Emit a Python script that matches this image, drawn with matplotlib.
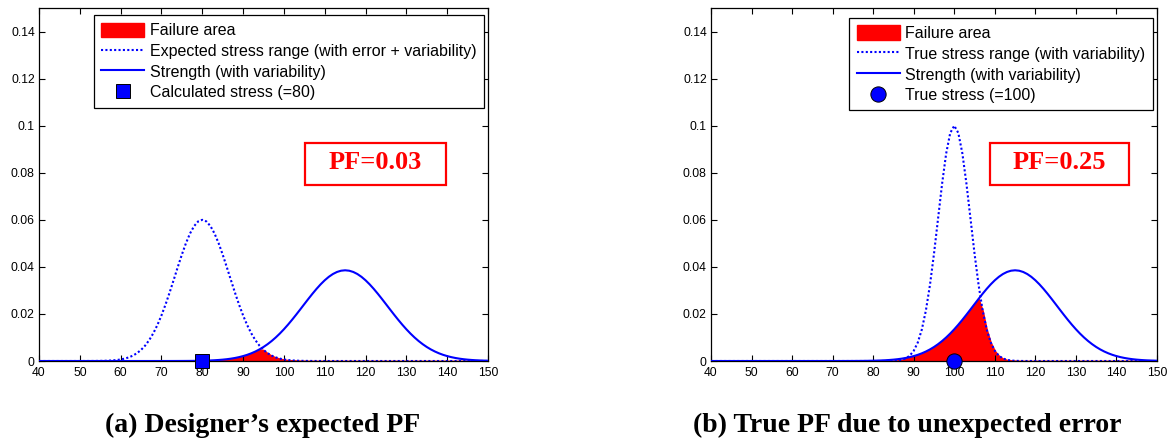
import numpy as np
import matplotlib
matplotlib.use("Agg")
import matplotlib.pyplot as plt
from matplotlib.patches import Rectangle

# ---- data ----
x_min, x_max = 40, 150
x_step = 1
# normal distributions: (mean, std) read from peak position/height
stress_a = (80.0, 6.65)      # expected stress (error + variability), peak ~0.060
strength = (115.0, 10.35)    # strength (with variability), peak ~0.0385
stress_b = (100.0, 3.99)     # true stress (variability), peak ~0.100
calc_stress = 80
true_stress = 100
pf_a = "PF=0.03"
pf_b = "PF=0.25"
legend_a = ["Failure area", "Expected stress range (with error + variability)",
            "Strength (with variability)", "Calculated stress (=80)"]
legend_b = ["Failure area", "True stress range (with variability)",
            "Strength (with variability)", "True stress (=100)"]
caption_a = "(a) Designer\u2019s expected PF"
caption_b = "(b) True PF due to unexpected error"
xticks = list(range(40, 151, 10))
yticks = [0, 0.02, 0.04, 0.06, 0.08, 0.1, 0.12, 0.14]
ytick_labels = ["0", "0.02", "0.04", "0.06", "0.08", "0.1", "0.12", "0.14"]


def pdf(x, m, s):
    return np.exp(-0.5 * ((x - m) / s) ** 2) / (s * np.sqrt(2 * np.pi))


x = np.arange(x_min, x_max + x_step, x_step)

W, H = 1174, 445
fig = plt.figure(figsize=(W / 100, H / 100), dpi=100)
fig.patch.set_facecolor("white")

SANS = "Liberation Sans"
SERIF = "Liberation Serif"


def make_ax(left, right, top, bottom):
    return fig.add_axes([left / W, 1 - bottom / H, (right - left) / W, (bottom - top) / H])


def draw(ax, stress, marker_x, marker, msize, labels, pf_text, pf_box, legend_anchor):
    ys = pdf(x, *stress)
    yr = pdf(x, *strength)
    yf = np.minimum(ys, yr)
    h_fill = ax.fill_between(x, 0, yf, facecolor="red", edgecolor="red", linewidth=1.0, zorder=1)
    h_s, = ax.plot(x, ys, color="blue", linestyle=(0, (1, 1.1)), linewidth=1.5, zorder=2)
    h_r, = ax.plot(x, yr, color="blue", linestyle="-", linewidth=1.5, zorder=3)
    h_m, = ax.plot([marker_x], [0], linestyle="none", marker=marker, markersize=msize,
                   markerfacecolor="blue", markeredgecolor="black", markeredgewidth=0.7,
                   zorder=5, clip_on=False)
    ax.set_xlim(x_min, x_max)
    ax.set_ylim(0, 0.15)
    ax.set_xticks(xticks)
    ax.set_yticks(yticks)
    ax.set_yticklabels(ytick_labels)
    ax.tick_params(direction="in", top=True, right=True, length=4, width=0.8,
                   labelsize=8.7)
    ax.tick_params(axis="x", pad=4)
    ax.tick_params(axis="y", pad=3)
    for lab in ax.get_xticklabels() + ax.get_yticklabels():
        lab.set_fontfamily(SANS)
    for sp in ax.spines.values():
        sp.set_linewidth(0.9)
    leg = ax.legend([h_fill, h_s, h_r, h_m], labels, loc="upper right",
                    bbox_to_anchor=legend_anchor, bbox_transform=ax.transAxes,
                    prop={"family": SANS, "size": 11.5}, fancybox=False,
                    edgecolor="black", framealpha=1, handlelength=2.7,
                    handleheight=1.0, handletextpad=0.35, labelspacing=0.32,
                    borderpad=0.45, borderaxespad=0)
    leg.get_frame().set_linewidth(0.9)
    x0, x1, y0, y1 = pf_box
    ax.add_patch(Rectangle((x0, y0), x1 - x0, y1 - y0, transform=ax.transAxes,
                           facecolor="white", edgecolor="red", linewidth=1.6, zorder=6))
    ax.text((x0 + x1) / 2, (y0 + y1) / 2 + 0.004, pf_text, transform=ax.transAxes,
            color="red", fontsize=19, fontweight="bold", family=SERIF,
            ha="center", va="center", zorder=7)


ax1 = make_ax(39, 488, 8, 361)
draw(ax1, stress_a, calc_stress, "s", 9.8, legend_a, pf_a,
     (0.592, 0.906, 0.4986, 0.6176), (0.990, 0.979))
ax2 = make_ax(711, 1157, 8, 361)
draw(ax2, stress_b, true_stress, "o", 11, legend_b, pf_b,
     (0.6256, 0.937, 0.4986, 0.6176), (0.990, 0.971))

fig.text(263 / W, 1 - 425 / H, caption_a, fontsize=20, fontweight="bold", family=SERIF,
         ha="center", va="center")
fig.text(907 / W, 1 - 425 / H, caption_b, fontsize=20, fontweight="bold", family=SERIF,
         ha="center", va="center")

fig.savefig("out.png", dpi=100, facecolor="white")
